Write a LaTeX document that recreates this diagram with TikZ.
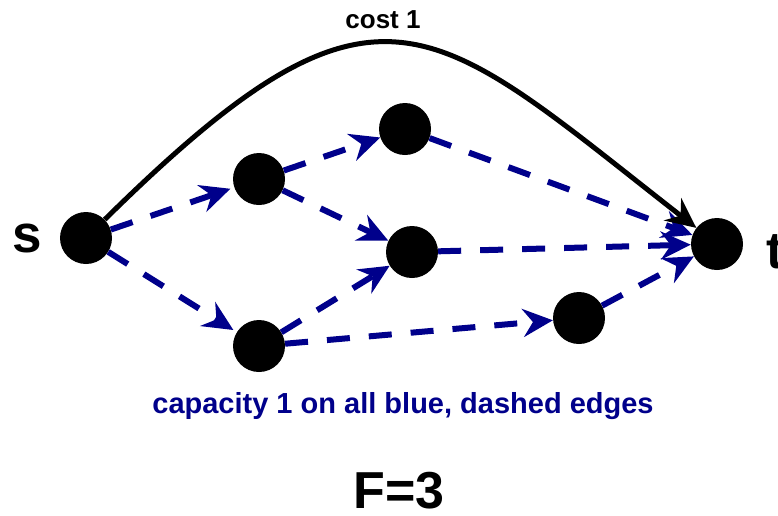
\documentclass[tikz,border=0pt]{standalone}
\usepackage{fontspec}
\setmainfont{Liberation Sans}
\usetikzlibrary{arrows.meta}
\definecolor{flowblue}{RGB}{0,0,139}
\begin{document}
\begin{tikzpicture}[x=1pt,y=-1pt,
  vert/.style={circle,fill=black,draw=none,minimum size=52pt,inner sep=0pt},
  tip/.style={-{Stealth[length=30pt,width=28pt,inset=10pt]}},
  capedge/.style={tip,draw=flowblue,line width=6pt,dash pattern=on 23pt off 19pt},
  costedge/.style={tip,draw=black,line width=5pt},
  lbl/.style={inner sep=0pt,font=\bfseries}]
\useasboundingbox (0,0) rectangle (778,515);
\node[vert] (s) at (86,238) {};
\node[vert] (a) at (259,179) {};
\node[vert] (b) at (259,346) {};
\node[vert] (c) at (405,129) {};
\node[vert] (d) at (412,252) {};
\node[vert] (e) at (579,318) {};
\node[vert] (t) at (717,244) {};
\node[lbl,anchor=base,font=\bfseries\fontsize{53}{55}\selectfont] (sl) at (27,252) {s};
\node[lbl,anchor=base west,font=\bfseries\fontsize{52}{54}\selectfont] (tl) at (766,268) {t};
\node[lbl,anchor=base,font=\bfseries\fontsize{26}{28}\selectfont] (cost) at (383,28) {cost 1};
\node[lbl,anchor=base,text=flowblue,font=\bfseries\fontsize{29}{31}\selectfont] (cap) at (403,413) {capacity 1 on all blue, dashed edges};
\node[lbl,anchor=base,font=\bfseries\fontsize{52}{54}\selectfont] (F) at (399,508) {F=3};
\draw[capedge,shorten >=4pt] (s) -- (a);
\draw[capedge,shorten >=4pt] (s) -- (b);
\draw[capedge] (a) -- (c);
\draw[capedge] (a) -- (d);
\draw[capedge] (b) -- (d);
\draw[capedge] (b) -- (e);
\draw[capedge] (c) -- (t);
\draw[capedge] (d) -- (t);
\draw[capedge] (e) -- (t);
\draw[costedge] (s) .. controls (380,-52) and (430,20) .. (t);
\end{tikzpicture}
\end{document}
